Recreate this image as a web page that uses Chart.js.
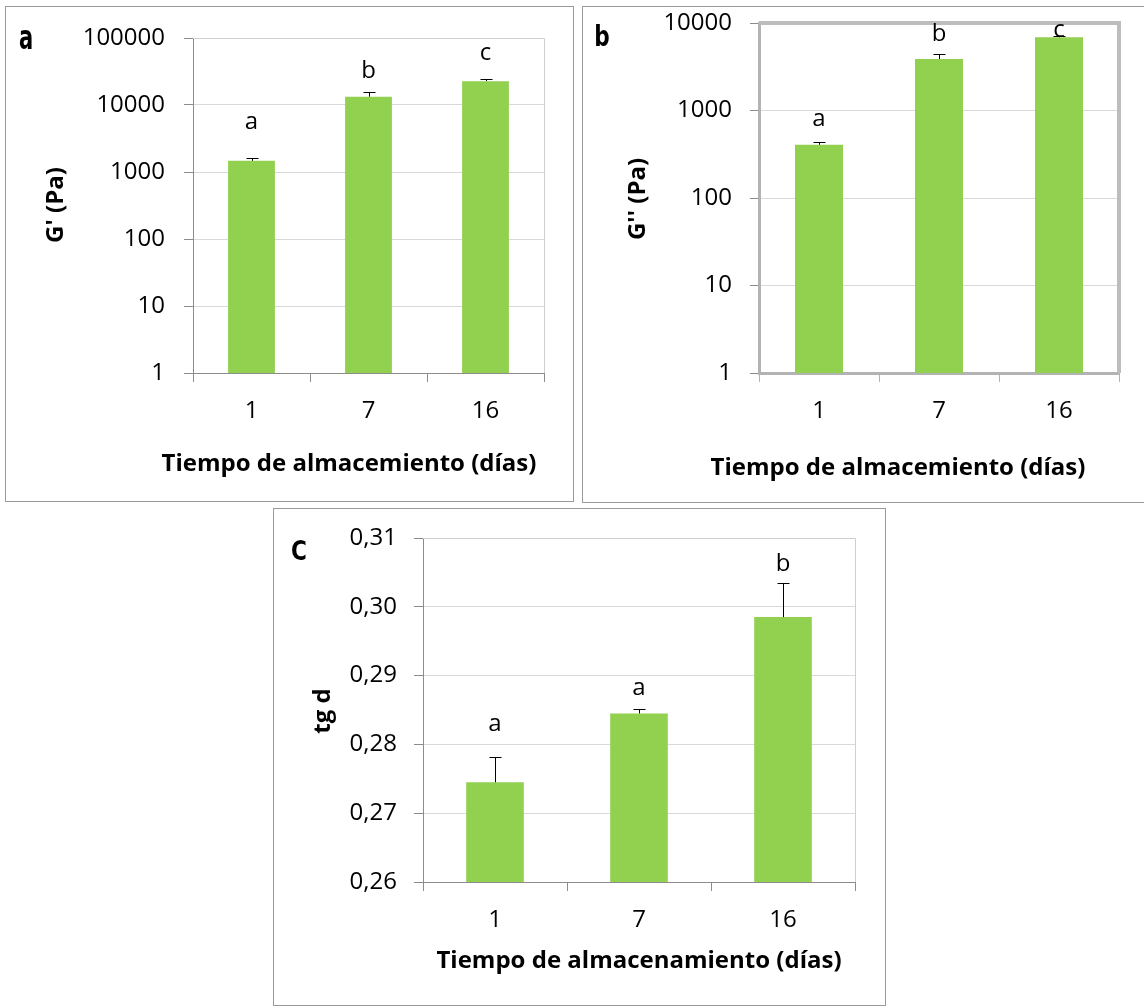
<!DOCTYPE html>
<html><head><meta charset="utf-8">
<script src="https://cdn.jsdelivr.net/npm/chart.js@4.4.0/dist/chart.umd.min.js"></script>
<style>
html,body{margin:0;padding:0;background:#fff;}
body{width:1144px;height:1007px;position:relative;overflow:hidden;}
.frame{position:absolute;box-sizing:border-box;border:1px solid #9a9a9a;background:#fff;}
canvas{position:absolute;}
.plabel{position:absolute;font-family:'Liberation Sans Narrow','DejaVu Sans Condensed',sans-serif;font-weight:bold;color:#000;line-height:1;white-space:nowrap;}
</style></head>
<body>
<div class="frame" style="left:5px;top:6px;width:569px;height:496px"></div>
<div class="frame" style="left:582px;top:6px;width:570px;height:497px"></div>
<div class="frame" style="left:273px;top:508px;width:613px;height:498px"></div>
<canvas id="ca" width="569" height="496" style="left:5px;top:6px"></canvas>
<canvas id="cb" width="562" height="497" style="left:582px;top:6px"></canvas>
<canvas id="cc" width="612" height="497" style="left:273px;top:508px"></canvas>
<div class="plabel" style="left:26px;top:37px;font-size:26px;transform:translate(-50%,-50%) scale(0.9,1.3)">a</div>
<div class="plabel" style="left:602px;top:37px;font-size:24px;transform:translate(-50%,-50%) scale(1,1.15)">b</div>
<div class="plabel" style="left:299px;top:551px;font-size:24px;transform:translate(-50%,-50%) scale(1,1.1)">C</div>
<script>
// ---------------- data ----------------
const days = ['1', '7', '16'];

const gPrimeMean = [1470, 13300, 22700];
const gPrimeSD = [125, 2300, 1900];
const gPrimeLetters = ['a', 'b', 'c'];
const gPrimeTicks = [1, 10, 100, 1000, 10000, 100000];
const gPrimeTickLabels = ['1', '10', '100', '1000', '10000', '100000'];

const gDoubleMean = [406, 3880, 6870];
const gDoubleSD = [29, 590, 310];
const gDoubleLetters = ['a', 'b', 'c'];
const gDoubleTicks = [1, 10, 100, 1000, 10000];
const gDoubleTickLabels = ['1', '10', '100', '1000', '10000'];

const tanDeltaMean = [0.2745, 0.2845, 0.2985];
const tanDeltaSD = [0.0036, 0.0007, 0.0049];
const tanDeltaLetters = ['a', 'a', 'b'];
const tanDeltaTicks = [0.26, 0.27, 0.28, 0.29, 0.30, 0.31];
const tanDeltaTickLabels = ['0,26', '0,27', '0,28', '0,29', '0,30', '0,31'];

// ---------------- styling ----------------
const BAR = '#92D050';
const GRID = '#d9d9d9';
const FONT = "'Open Sans', 'Liberation Sans', sans-serif";
Chart.defaults.font.family = FONT;

function makeChart(id, o) {
  const framePlugin = {
    id: 'frame_' + id,
    beforeDatasetsDraw(chart) {
      const a = chart.chartArea, ctx = chart.ctx;
      ctx.save();
      ctx.strokeStyle = o.frameColor;
      ctx.lineWidth = o.frameWidth;
      ctx.beginPath();
      const off = o.frameWidth % 2 ? 0.5 : 0;
      ctx.moveTo(Math.round(a.left), Math.round(a.top) + off);
      ctx.lineTo(Math.round(a.right) + off, Math.round(a.top) + off);
      ctx.lineTo(Math.round(a.right) + off, Math.round(a.bottom));
      ctx.stroke();
      ctx.restore();
    }
  };
  const annotPlugin = {
    id: 'annot_' + id,
    afterDatasetsDraw(chart) {
      const ctx = chart.ctx, meta = chart.getDatasetMeta(0), ys = chart.scales.y;
      ctx.save();
      ctx.strokeStyle = '#000';
      ctx.lineWidth = 1;
      ctx.fillStyle = '#000';
      ctx.font = '24px ' + FONT;
      ctx.textAlign = 'center';
      ctx.textBaseline = 'alphabetic';
      o.means.forEach((m, i) => {
        const x = Math.round(meta.data[i].x) + 0.5;
        const yb = ys.getPixelForValue(m);
        const yt = Math.round(ys.getPixelForValue(m + o.sds[i])) + 0.5;
        ctx.beginPath();
        ctx.moveTo(x, yb);
        ctx.lineTo(x, yt);
        ctx.moveTo(x - 6, yt);
        ctx.lineTo(x + 6, yt);
        ctx.stroke();
        ctx.fillText(o.letters[i], meta.data[i].x, yt - o.letterOffsets[i]);
      });
      ctx.restore();
    },
    afterDraw(chart) {
      const ctx = chart.ctx;
      ctx.save();
      ctx.fillStyle = '#000';
      ctx.font = 'bold 24px ' + FONT;
      ctx.textAlign = 'center';
      ctx.textBaseline = 'middle';
      ctx.fillText(o.xTitle, o.xTitlePos[0], o.xTitlePos[1]);
      ctx.translate(o.yTitlePos[0], o.yTitlePos[1]);
      ctx.rotate(-Math.PI / 2);
      ctx.fillText(o.yTitle, 0, 0);
      ctx.restore();
    }
  };
  return new Chart(document.getElementById(id), {
    type: 'bar',
    data: {
      labels: days,
      datasets: [{ data: o.means, backgroundColor: BAR, borderWidth: 0,
        barPercentage: 0.4, categoryPercentage: 1.0 }]
    },
    options: {
      responsive: false,
      animation: false,
      events: [],
      layout: { padding: { left: 0, top: o.padTop, right: o.padRight, bottom: 0 } },
      plugins: { legend: { display: false }, tooltip: { enabled: false } },
      scales: {
        x: {
          type: 'category',
          afterFit(s) { s.height = o.xH; s.paddingLeft = 0; s.paddingRight = 0; },
          ticks: { font: { size: 24 }, color: '#000', padding: o.xTickPad, maxRotation: 0, autoSkip: false },
          grid: { display: true, drawOnChartArea: false, drawTicks: true, tickLength: 9,
            color: o.axisColor, tickColor: o.axisColor, offset: true },
          border: { display: true, color: o.axisColor, width: o.axisWidth }
        },
        y: {
          type: o.type, min: o.min, max: o.max,
          afterBuildTicks(s) { s.ticks = o.tickVals.map(v => ({ value: v })); },
          afterFit(s) { s.width = o.yW; s.paddingTop = 0; s.paddingBottom = 0; },
          ticks: { font: { size: 24 }, color: '#000', padding: o.yTickPad,
            callback: (v, i) => o.tickLabels[i] },
          grid: { color: GRID, tickColor: o.tickColor, tickLength: 9, drawTicks: true },
          border: { display: true, color: o.axisColor, width: o.axisWidth }
        }
      }
    },
    plugins: [framePlugin, annotPlugin]
  });
}

makeChart('ca', {
  type: 'logarithmic', min: 1, max: 100000,
  tickVals: gPrimeTicks, tickLabels: gPrimeTickLabels,
  means: gPrimeMean, sds: gPrimeSD, letters: gPrimeLetters, letterOffsets: [30, 15, 20],
  yW: 188, xH: 129, padTop: 32, padRight: 30, xTickPad: 15, yTickPad: 19,
  axisColor: '#8c8c8c', tickColor: '#8c8c8c', axisWidth: 1, frameColor: '#cfcfcf', frameWidth: 1,
  xTitle: 'Tiempo de almacemiento (días)', xTitlePos: [344, 458],
  yTitle: "G' (Pa)", yTitlePos: [51, 199]
});

makeChart('cb', {
  type: 'logarithmic', min: 1, max: 10000,
  tickVals: gDoubleTicks, tickLabels: gDoubleTickLabels,
  means: gDoubleMean, sds: gDoubleSD, letters: gDoubleLetters, letterOffsets: [17, 14, 0],
  yW: 177, xH: 130, padTop: 17, padRight: 25, xTickPad: 15, yTickPad: 18,
  axisColor: '#b3b3b3', tickColor: '#8c8c8c', axisWidth: 3, frameColor: '#bdbdbd', frameWidth: 4,
  xTitle: 'Tiempo de almacemiento (días)', xTitlePos: [316, 462],
  yTitle: "G'' (Pa)", yTitlePos: [56, 193]
});

makeChart('cc', {
  type: 'linear', min: 0.26, max: 0.31,
  tickVals: tanDeltaTicks, tickLabels: tanDeltaTickLabels,
  means: tanDeltaMean, sds: tanDeltaSD, letters: tanDeltaLetters, letterOffsets: [27, 15, 13],
  yW: 150, xH: 123, padTop: 30, padRight: 30, xTickPad: 15, yTickPad: 17,
  axisColor: '#8c8c8c', tickColor: '#8c8c8c', axisWidth: 1, frameColor: '#cfcfcf', frameWidth: 1,
  xTitle: 'Tiempo de almacenamiento (días)', xTitlePos: [366, 453],
  yTitle: 'tg d', yTitlePos: [50, 203]
});
</script>
</body></html>
